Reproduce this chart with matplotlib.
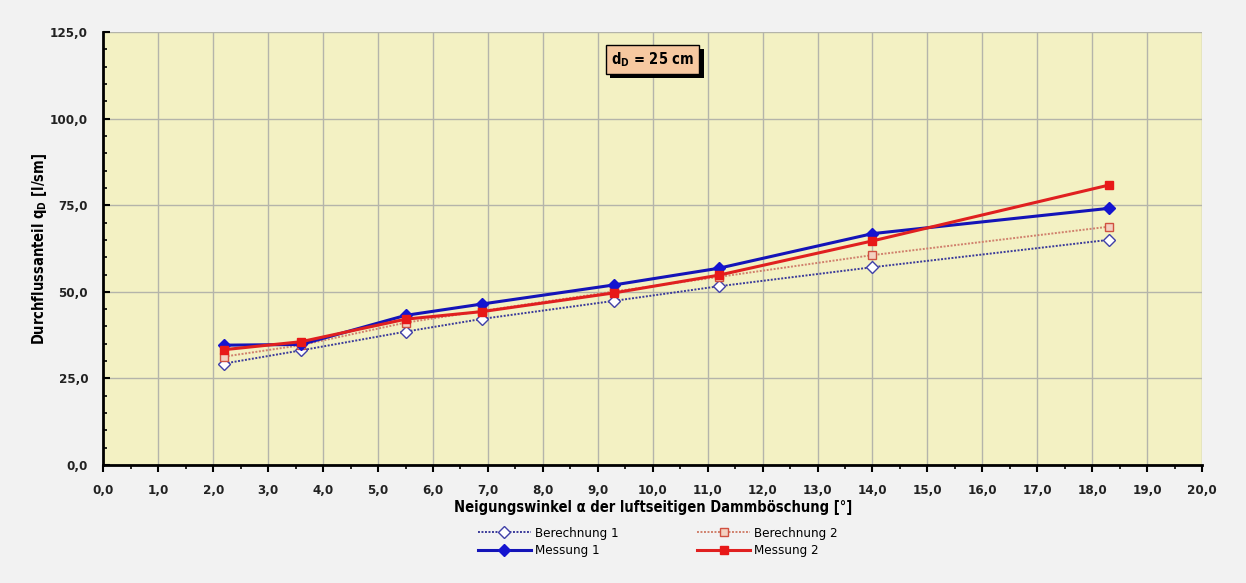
import matplotlib
matplotlib.use('Agg')
import matplotlib.pyplot as plt
import matplotlib.patheffects as pe
from matplotlib.ticker import MultipleLocator, FuncFormatter

# Neigungswinkel [°]
alpha = [2.2, 3.6, 5.5, 6.9, 9.3, 11.2, 14.0, 18.3]
berechnung1 = [29.3, 33.1, 38.5, 42.2, 47.4, 51.6, 57.1, 65.0]
berechnung2 = [31.3, 34.6, 41.1, 44.5, 50.1, 54.3, 60.6, 68.8]
messung1 = [34.6, 34.8, 43.2, 46.5, 52.0, 56.8, 66.8, 74.1]
messung2 = [33.3, 35.6, 42.1, 44.3, 49.7, 54.8, 64.7, 80.8]

plt.rcParams['font.family'] = ['Liberation Sans Narrow', 'DejaVu Sans']
plt.rcParams['font.stretch'] = 'condensed'

fig = plt.figure(figsize=(12.46, 5.83), dpi=100, facecolor='#f2f2f2')
ax = fig.add_axes([0.083, 0.2024, 0.8817, 0.7426])
ax.set_facecolor('#f3f1c3')

ax.plot(alpha, berechnung1, color='#3a3a9a', lw=1.4, ls=(0, (1, 0.8)),
        marker='D', ms=6, mfc='white', mec='#4040a8', mew=1.0, label='Berechnung 1')
ax.plot(alpha, berechnung2, color='#d0806c', lw=1.4, ls=(0, (1, 0.8)),
        marker='s', ms=6, mfc='#f3d0c0', mec='#d05040', mew=1.0, label='Berechnung 2')
ax.plot(alpha, messung1, color='#1414b8', lw=2.2,
        marker='D', ms=6, mfc='#1414d0', mec='#1414d0', label='Messung 1')
ax.plot(alpha, messung2, color='#e02020', lw=2.2,
        marker='s', ms=6, mfc='#e81818', mec='#e81818', label='Messung 2')

ax.set_xlim(0, 20)
ax.set_ylim(0, 125)
ax.xaxis.set_major_locator(MultipleLocator(1))
ax.xaxis.set_minor_locator(MultipleLocator(0.5))
ax.yaxis.set_major_locator(MultipleLocator(25))
ax.yaxis.set_minor_locator(MultipleLocator(5))
fmt = FuncFormatter(lambda v, p: ('%.1f' % v).replace('.', ','))
ax.xaxis.set_major_formatter(fmt)
ax.yaxis.set_major_formatter(fmt)

ax.grid(True, which='major', color='#b4b4aa', lw=1.0)
ax.set_axisbelow(True)
for s in ['top', 'right']:
    ax.spines[s].set_visible(False)
for s in ['left', 'bottom']:
    ax.spines[s].set_linewidth(2)
    ax.spines[s].set_color('black')

ax.tick_params(which='major', length=5, width=1.5, direction='out', labelsize=9.5)
ax.tick_params(which='minor', length=3, width=1.2, direction='out')
ax.tick_params(axis='y', which='both', direction='in')
for lab in ax.get_xticklabels() + ax.get_yticklabels():
    lab.set_fontweight('bold')
    lab.set_color('#222222')
ax.tick_params(axis='x', pad=9)
ax.tick_params(axis='y', pad=11)

ax.set_xlabel('Neigungswinkel \u03b1 der luftseitigen Dammböschung [°]',
              fontsize=10.5, fontweight='bold', labelpad=2)
ax.set_ylabel('Durchflussanteil q$_\\mathregular{D}$ [l/sm]',
              fontsize=10.5, fontweight='bold', labelpad=1)

box = ax.text(0.5, 0.937, 'd$_\\mathregular{D}$ = 25 cm', transform=ax.transAxes,
              ha='center', va='center', fontsize=10.5, fontweight='bold',
              bbox=dict(boxstyle='square,pad=0.35', fc='#f6c8a0', ec='black', lw=1.0))
box.get_bbox_patch().set_path_effects(
    [pe.SimplePatchShadow(offset=(3, -3), shadow_rgbFace='black', alpha=1.0), pe.Normal()])

handles, labels = ax.get_legend_handles_labels()
order = [0, 2, 1, 3]
fig.legend([handles[i] for i in order], [labels[i] for i in order],
           loc='center', bbox_to_anchor=(0.528, 0.07), ncol=2, frameon=False,
           fontsize=9.5, handlelength=4.0, columnspacing=6.0, labelspacing=0.35,
           handletextpad=0.3)

fig.savefig('out.png', dpi=100, facecolor=fig.get_facecolor())
